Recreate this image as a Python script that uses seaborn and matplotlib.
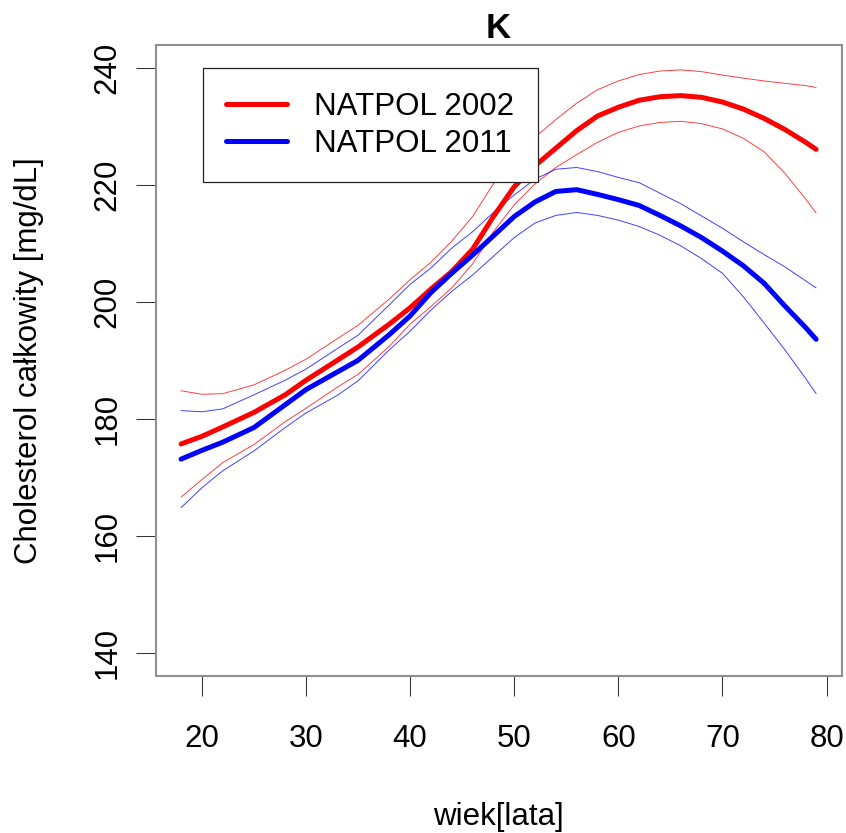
# -*- coding: utf-8 -*-

### Cholesterol całkowity wg wieku - kobiety (K), NATPOL 2002 vs 2011 ###

import seaborn as sns
import matplotlib.pyplot as plt
from matplotlib.lines import Line2D

## Dane ##

wiek = [18, 20, 22, 25, 28, 30, 33, 35, 38, 40, 42, 44, 46, 48, 50,
        52, 54, 56, 58, 60, 62, 64, 66, 68, 70, 72, 74, 76, 78, 79]

# NATPOL 2002 - krzywa + przedzial ufnosci #
natpol2002 = [175.7, 177.0, 178.6, 181.1, 184.1, 186.6, 190.0, 192.3, 196.2, 199.0,
              202.2, 205.2, 209.0, 214.6, 219.7, 223.3, 226.3, 229.3, 231.8, 233.3,
              234.5, 235.1, 235.3, 235.0, 234.2, 233.0, 231.4, 229.5, 227.3, 226.1]
natpol2002_gora = [184.8, 184.2, 184.3, 185.8, 188.3, 190.2, 193.7, 196.0, 200.5, 203.8,
                   206.8, 210.4, 214.6, 220.2, 224.5, 228.2, 231.2, 234.0, 236.3, 237.8,
                   238.9, 239.5, 239.7, 239.4, 238.8, 238.3, 237.8, 237.4, 237.0, 236.7]
natpol2002_dol = [166.6, 169.6, 172.5, 175.6, 179.5, 181.8, 185.4, 187.6, 192.4, 196.2,
                  199.2, 202.4, 206.5, 212.0, 216.6, 220.2, 223.0, 225.2, 227.3, 229.0,
                  230.1, 230.7, 230.9, 230.5, 229.6, 228.0, 225.7, 222.0, 217.6, 215.2]

# NATPOL 2011 - krzywa + przedzial ufnosci #
natpol2011 = [173.1, 174.6, 176.0, 178.5, 182.4, 185.0, 188.0, 190.0, 194.4, 197.6,
              201.6, 204.9, 208.0, 211.3, 214.6, 217.1, 218.9, 219.2, 218.4, 217.5,
              216.5, 214.8, 213.0, 211.0, 208.7, 206.2, 203.2, 199.3, 195.6, 193.6]
natpol2011_gora = [181.4, 181.2, 181.7, 184.1, 186.6, 188.5, 192.0, 194.3, 199.5, 203.0,
                   205.8, 209.2, 212.0, 215.3, 218.3, 221.0, 222.7, 223.0, 222.3, 221.3,
                   220.4, 218.6, 216.8, 214.7, 212.6, 210.3, 208.1, 206.0, 203.6, 202.4]
natpol2011_dol = [164.8, 168.2, 171.1, 174.5, 178.5, 181.0, 184.0, 186.5, 191.8, 195.0,
                  198.6, 201.8, 204.6, 207.8, 211.0, 213.5, 214.8, 215.3, 214.8, 214.0,
                  212.9, 211.4, 209.6, 207.4, 204.9, 200.9, 196.4, 191.8, 186.9, 184.3]

x_ticks = [20, 30, 40, 50, 60, 70, 80]
y_ticks = [140, 160, 180, 200, 220, 240]
legenda = ["NATPOL 2002", "NATPOL 2011"]

## Styl ##
sns.set_style('ticks')
plt.rcParams['font.family'] = ['Liberation Sans', 'DejaVu Sans']
plt.rcParams['text.color'] = 'black'
plt.rcParams['axes.labelcolor'] = 'black'
fs = 22.5
gruba = 3.6
cienka = 0.7

fig = plt.figure(figsize=(8.46, 8.33), dpi=100)
ax = fig.add_axes([0.1840, 0.1885, 0.8107, 0.7578])

krzywe = [(natpol2002_gora, 'red', cienka), (natpol2002_dol, 'red', cienka),
          (natpol2011_gora, 'blue', cienka), (natpol2011_dol, 'blue', cienka),
          (natpol2002, 'red', gruba), (natpol2011, 'blue', gruba)]
for y, kolor, lw in krzywe:
    sns.lineplot(x=wiek, y=y, color=kolor, linewidth=lw, ax=ax, legend=False,
                 solid_capstyle='round', alpha=1.0 if lw == gruba else 0.75)

ax.set_xlim(15.56, 81.44)
ax.set_ylim(136, 244)
ax.set_xticks(x_ticks)
ax.set_yticks(y_ticks)

for s in ax.spines.values():
    s.set_color('#909090')
    s.set_linewidth(1.5)

ax.tick_params(length=14.4, width=0.75, color='#333333', labelsize=fs,
               direction='out', labelcolor='black')
ax.tick_params(axis='x', pad=20.5)
ax.tick_params(axis='y', pad=9.5)
plt.setp(ax.get_yticklabels(), rotation=90, va='center')

ax.set_title('K', fontsize=25, fontweight='bold', pad=3.4, color='black')
ax.set_xlabel('wiek[lata]', fontsize=fs)
ax.set_ylabel('Cholesterol całkowity [mg/dL]', fontsize=fs)
ax.xaxis.set_label_coords(0.5, -0.1996)
ax.yaxis.set_label_coords(-0.163, 0.5)

uchwyty = [Line2D([], [], color='red', lw=gruba, solid_capstyle='round'),
           Line2D([], [], color='blue', lw=gruba, solid_capstyle='round')]
leg = ax.legend(uchwyty, legenda, loc='upper left', bbox_to_anchor=(0.0686, 0.963),
                borderaxespad=0, borderpad=0.76, labelspacing=0.22,
                handlelength=1.94, handletextpad=0.85, fancybox=False,
                edgecolor='#222222', framealpha=1, fontsize=fs)
leg.get_frame().set_linewidth(0.9)
for t in leg.get_texts():
    t.set_color('black')

plt.savefig('out.png', dpi=100)
